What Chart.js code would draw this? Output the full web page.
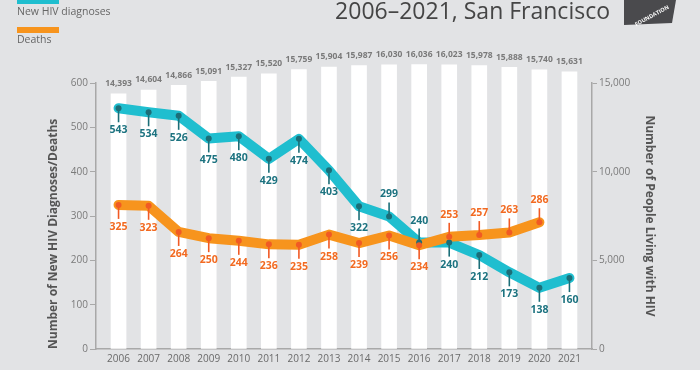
<!DOCTYPE html>
<html>
<head>
<meta charset="utf-8">
<script src="https://cdn.jsdelivr.net/npm/chart.js@4.4.0/dist/chart.umd.min.js"></script>
<style>
  html, body { margin: 0; padding: 0; background: #e2e3e5; }
  canvas { display: block; }
</style>
</head>
<body>
<canvas id="chart" width="700" height="370"></canvas>
<script>
// Data
const years = [2006, 2007, 2008, 2009, 2010, 2011, 2012, 2013, 2014, 2015, 2016, 2017, 2018, 2019, 2020, 2021];
const livingWithHiv = [14393, 14604, 14866, 15091, 15327, 15520, 15759, 15904, 15987, 16030, 16036, 16023, 15978, 15888, 15740, 15631];
const newDiagnoses = [543, 534, 526, 475, 480, 429, 474, 403, 322, 299, 240, 240, 212, 173, 138, 160];
const deaths = [325, 323, 264, 250, 244, 236, 235, 258, 239, 256, 234, 253, 257, 263, 286];

const titleText = '2006\u20132021, San Francisco';
const leftAxisTitle = 'Number of New HIV Diagnoses/Deaths';
const rightAxisTitle = 'Number of People Living with HIV';

const FONT = "'Open Sans', 'DejaVu Sans', sans-serif";
const TEAL = '#1fbecf';
const ORANGE = '#f7941d';

function toPoints(values) {
    return values.map((v, i) => ({ x: years[i], y: v }));
}

const fmt = n => n.toLocaleString('en-US');

const decorPlugin = {
    id: 'decor',
    beforeDraw(chart) {
        const ctx = chart.ctx;
        ctx.save();
        ctx.fillStyle = '#e2e3e5';
        ctx.fillRect(0, 0, chart.width, chart.height);
        ctx.restore();
    },
    afterDatasetsDraw(chart) {
        const ctx = chart.ctx;
        ctx.save();

        // values above the bars
        const barMeta = chart.getDatasetMeta(0);
        ctx.font = 'bold 8.5px ' + FONT;
        ctx.fillStyle = '#7a7a7a';
        ctx.textAlign = 'center';
        ctx.textBaseline = 'middle';
        barMeta.data.forEach((bar, i) => {
            ctx.fillText(fmt(livingWithHiv[i]), bar.x, bar.y - 10);
        });

        // markers, stems and labels on the lines
        const series = [
            { index: 1, values: newDiagnoses, dot: '#1b6e78', text: '#1d7380', above: i => i === 9 || i === 10 },
            { index: 2, values: deaths, dot: '#f15a24', text: '#f26a21', above: i => i >= 11 }
        ];
        series.forEach(s => {
            const meta = chart.getDatasetMeta(s.index);
            meta.data.forEach((pt, i) => {
                const dir = s.above(i) ? -1 : 1;
                ctx.strokeStyle = s.dot;
                ctx.lineWidth = 1.6;
                ctx.beginPath();
                ctx.moveTo(pt.x, pt.y);
                ctx.lineTo(pt.x, pt.y + dir * 14);
                ctx.stroke();
                ctx.fillStyle = s.dot;
                ctx.beginPath();
                ctx.arc(pt.x, pt.y, 3, 0, Math.PI * 2);
                ctx.fill();
                ctx.fillStyle = s.text;
                ctx.font = 'bold 10.5px ' + FONT;
                ctx.fillText(String(s.values[i]), pt.x, pt.y + dir * 22);
            });
        });
        ctx.restore();
    },
    afterDraw(chart) {
        const ctx = chart.ctx;
        ctx.save();

        // title (top part of the graphic is cut off)
        ctx.font = '23px ' + FONT;
        ctx.fillStyle = '#454545';
        ctx.textAlign = 'right';
        ctx.textBaseline = 'alphabetic';
        ctx.fillText(titleText, 610, 19);

        // legend
        ctx.fillStyle = TEAL;
        ctx.fillRect(17, -2, 42, 6);
        ctx.fillStyle = ORANGE;
        ctx.fillRect(17, 27, 42, 6);
        ctx.font = '10.5px ' + FONT;
        ctx.fillStyle = '#666';
        ctx.textAlign = 'left';
        ctx.textBaseline = 'middle';
        ctx.fillText('New HIV diagnoses', 17, 12);
        ctx.fillText('Deaths', 17, 40);

        // logo block
        ctx.fillStyle = '#4a4a4d';
        ctx.beginPath();
        ctx.moveTo(624, 0);
        ctx.lineTo(676, 0);
        ctx.lineTo(672, 23);
        ctx.lineTo(624, 25);
        ctx.closePath();
        ctx.fill();
        ctx.translate(652, 16);
        ctx.rotate(-0.5);
        ctx.fillStyle = '#fff';
        ctx.font = 'bold 5.5px ' + FONT;
        ctx.textAlign = 'center';
        ctx.fillText('FOUNDATION', 0, 0);
        ctx.restore();
    }
};

new Chart(document.getElementById('chart'), {
    type: 'bar',
    data: {
        datasets: [
            {
                type: 'bar',
                data: toPoints(livingWithHiv),
                yAxisID: 'y2',
                backgroundColor: '#ffffff',
                barThickness: 15,
                clip: false,
                order: 3
            },
            {
                type: 'line',
                data: toPoints(newDiagnoses),
                yAxisID: 'y',
                borderColor: TEAL,
                borderWidth: 10,
                borderJoinStyle: 'round',
                borderCapStyle: 'round',
                pointRadius: 0,
                tension: 0,
                order: 2
            },
            {
                type: 'line',
                data: toPoints(deaths),
                yAxisID: 'y',
                borderColor: ORANGE,
                borderWidth: 10,
                borderJoinStyle: 'round',
                borderCapStyle: 'round',
                pointRadius: 0,
                tension: 0,
                order: 1
            }
        ]
    },
    options: {
        responsive: false,
        animation: false,
        layout: { padding: { top: 83, left: 0, right: 0, bottom: 0 } },
        plugins: {
            legend: { display: false },
            tooltip: { enabled: false }
        },
        scales: {
            x: {
                type: 'linear',
                min: 2005.25,
                max: 2021.75,
                offset: false,
                afterFit: s => { s.height = 21; },
                grid: { display: false, drawTicks: false, offset: false },
                border: { color: '#a8a8a8', width: 1.5 },
                ticks: {
                    stepSize: 1,
                    includeBounds: false,
                    autoSkip: false,
                    maxRotation: 0,
                    padding: 4,
                    color: '#6a6a6a',
                    font: { family: FONT, size: 10 },
                    callback: v => String(v)
                }
            },
            y: {
                position: 'left',
                min: 0,
                max: 600,
                afterFit: s => { s.width = 96; },
                grid: { drawOnChartArea: false, tickLength: 6, color: '#a8a8a8', lineWidth: 1 },
                border: { color: '#a8a8a8', width: 1.5 },
                ticks: {
                    stepSize: 100,
                    padding: 2,
                    color: '#7a7a7a',
                    font: { family: FONT, size: 10 }
                },
                title: {
                    display: true,
                    text: leftAxisTitle,
                    align: 'start',
                    color: '#555',
                    font: { family: FONT, size: 12, weight: 'bold' },
                    padding: { top: 46, bottom: 0 }
                }
            },
            y2: {
                position: 'right',
                min: 0,
                max: 15000,
                afterFit: s => { s.width = 108; },
                grid: { drawOnChartArea: false, tickLength: 5, color: '#a8a8a8', lineWidth: 1 },
                border: { color: '#a8a8a8', width: 1.5 },
                ticks: {
                    stepSize: 5000,
                    padding: 2,
                    color: '#7a7a7a',
                    font: { family: FONT, size: 10 },
                    callback: v => fmt(v)
                },
                title: {
                    display: true,
                    text: rightAxisTitle,
                    color: '#555',
                    font: { family: FONT, size: 12, weight: 'bold' },
                    padding: { top: 43, bottom: 0 }
                }
            }
        }
    },
    plugins: [decorPlugin]
});
</script>
</body>
</html>
